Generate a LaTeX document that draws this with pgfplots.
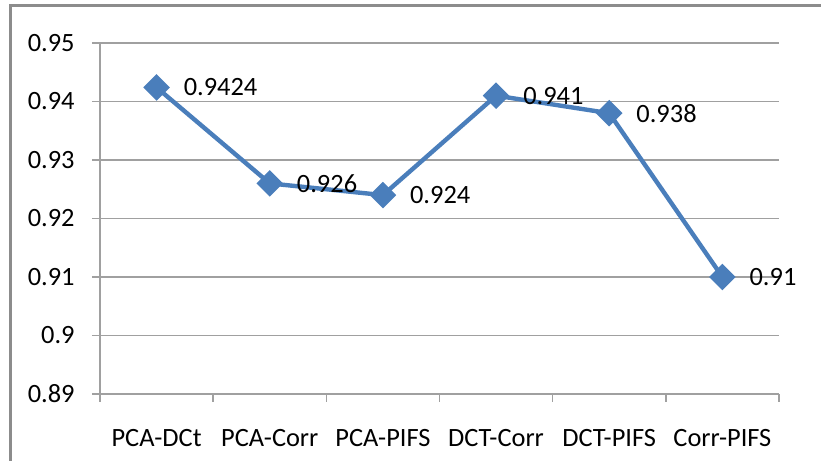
\documentclass[border=0pt]{standalone}
\usepackage{pgfplots}
\pgfplotsset{compat=1.18}
\usepackage{fontspec}
\setmainfont{Carlito}
\definecolor{lineblue}{RGB}{74,126,187}
\definecolor{gridgray}{RGB}{160,160,160}
\definecolor{framegray}{RGB}{140,140,140}
\pgfplotstableread{
x y label
0 0.9424 0.9424
1 0.926 0.926
2 0.924 0.924
3 0.941 0.941
4 0.938 0.938
5 0.91 0.91
}\datatable
\begin{document}
\begin{tikzpicture}[font=\fontsize{13.2}{15.5}\selectfont]
\useasboundingbox (0,0) rectangle (410.5pt,230.5pt);
\draw[framegray, line width=1.5pt] (5pt,-10pt) -- (5pt,227.5pt) -- (430pt,227.5pt);
\begin{axis}[
  at={(50pt,33.5pt)}, anchor=south west,
  scale only axis, width=339.5pt, height=175.5pt,
  xmin=-0.5, xmax=5.5, ymin=0.89, ymax=0.95,
  axis x line*=bottom, axis y line*=left,
  axis line style={gridgray, line width=0.75pt},
  tick align=outside,
  xtick={0,1,2,3,4,5},
  xticklabels={PCA-DCt,PCA-Corr,PCA-PIFS,DCT-Corr,DCT-PIFS,Corr-PIFS},
  major x tick style={draw=none},
  minor xtick={-0.5,0.5,1.5,2.5,3.5,4.5,5.5},
  minor x tick style={gridgray, line width=0.75pt},
  minor tick length=4pt,
  major tick length=4pt,
  ytick={0.89,0.90,0.91,0.92,0.93,0.94,0.95},
  yticklabels={0.89,0.9,0.91,0.92,0.93,0.94,0.95},
  y tick style={gridgray, line width=0.75pt},
  ymajorgrids,
  grid style={gridgray, line width=0.75pt},
  xticklabel style={anchor=base, yshift=-22.5pt, inner sep=0pt},
  yticklabel style={anchor=east, xshift=-8.5pt, inner sep=0pt},
  clip=false,
]
\addplot[lineblue, line width=2.2pt, mark=square*, mark size=3.6pt,
  mark options={rotate=45, solid},
  nodes near coords, point meta=explicit symbolic,
  every node near coord/.append style={anchor=west, xshift=12.5pt, inner sep=0pt, text=black, rotate=0}]
  table[x=x, y=y, meta=label] {\datatable};
\end{axis}
\end{tikzpicture}
\end{document}
